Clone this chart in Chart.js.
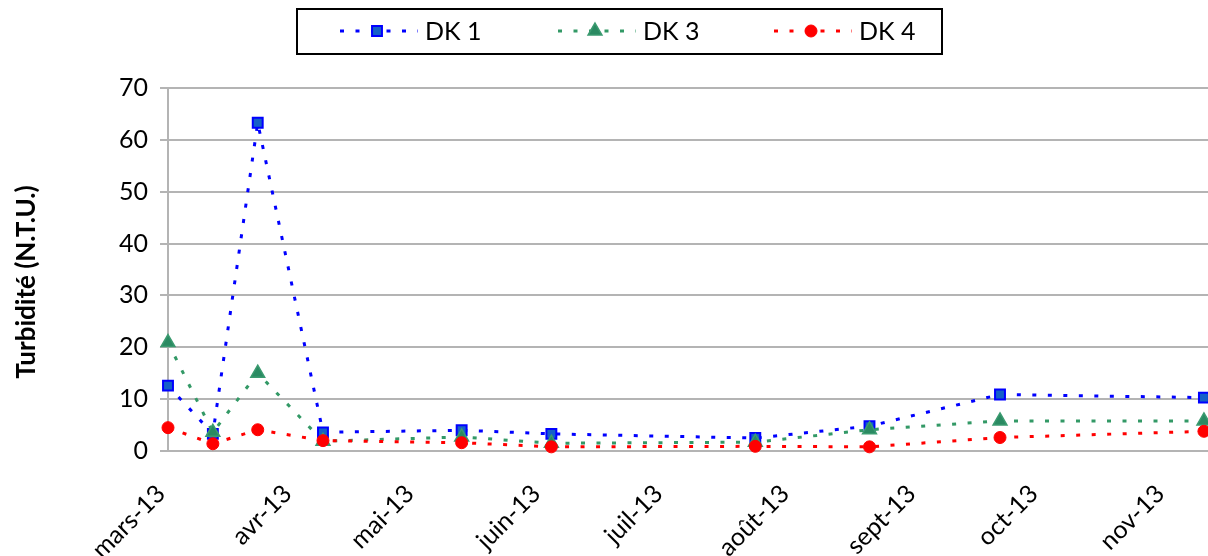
<!DOCTYPE html>
<html>
<head>
<meta charset="utf-8">
<script src="https://cdn.jsdelivr.net/npm/chart.js@4.4.1/dist/chart.umd.min.js"></script>
<style>
html, body { margin: 0; padding: 0; background: #fff; }
#wrap { width: 1208px; height: 556px; position: relative; }
</style>
</head>
<body>
<div id="wrap"><canvas id="turbChart"></canvas></div>
<script>
// dates des prélèvements
const sampleDates = ['2013-03-01', '2013-03-12', '2013-03-23', '2013-04-08', '2013-05-12',
                     '2013-06-03', '2013-07-23', '2013-08-20', '2013-09-21', '2013-11-10'];
// turbidité (N.T.U.)
const dk1 = [12.6, 3.3, 63.3, 3.6, 4.0, 3.3, 2.5, 4.8, 10.9, 10.3];
const dk3 = [20.9, 3.6, 15.0, 1.9, 2.7, 1.5, 1.7, 4.1, 5.8, 5.8];
const dk4 = [4.5, 1.4, 4.1, 2.0, 1.6, 0.8, 0.9, 0.8, 2.6, 3.8];
const seriesNames = ['DK 1', 'DK 3', 'DK 4'];

// axe des dates
const monthStarts = ['2013-03-01', '2013-04-01', '2013-05-01', '2013-06-01', '2013-07-01',
                     '2013-08-01', '2013-09-01', '2013-10-01', '2013-11-01'];
const monthLabels = ['mars-13', 'avr-13', 'mai-13', 'juin-13', 'juil-13',
                     'août-13', 'sept-13', 'oct-13', 'nov-13'];
const axisStart = '2013-03-01';
const axisEnd = '2013-11-11';
const yMin = 0, yMax = 70, yStep = 10;

const DAY = 86400000;
function dayNum(s) {
    const [y, m, d] = s.split('-').map(Number);
    const [y0, m0, d0] = axisStart.split('-').map(Number);
    return (Date.UTC(y, m - 1, d) - Date.UTC(y0, m0 - 1, d0)) / DAY;
}
function toPoints(values) {
    return sampleDates.map((d, i) => ({ x: dayNum(d), y: values[i] }));
}

Chart.defaults.font.family = 'Lato';
Chart.defaults.color = '#000';

const GRID = '#b4b4b4';

// légende encadrée, avec l'échantillon de trait + marqueur
const boxLegend = {
    id: 'boxLegend',
    afterDraw(chart) {
        const ctx = chart.ctx;
        ctx.save();
        ctx.lineWidth = 2;
        ctx.strokeStyle = '#000';
        ctx.strokeRect(297, 9, 645, 45);
        const starts = [340, 558, 774];
        chart.data.datasets.forEach((ds, i) => {
            const x0 = starts[i], y = 31;
            ctx.setLineDash(ds.borderDash);
            ctx.strokeStyle = ds.borderColor;
            ctx.lineWidth = ds.borderWidth;
            ctx.beginPath();
            ctx.moveTo(x0, y);
            ctx.lineTo(x0 + 78, y);
            ctx.stroke();
            ctx.setLineDash([]);
            ctx.fillStyle = ds.pointBackgroundColor;
            ctx.strokeStyle = ds.pointBorderColor;
            ctx.lineWidth = ds.pointBorderWidth;
            Chart.helpers.drawPoint(ctx, {
                pointStyle: ds.pointStyle, radius: ds.pointRadius,
                borderWidth: ds.pointBorderWidth, rotation: 0
            }, x0 + 37, y);
            ctx.fillStyle = '#000';
            ctx.font = '25px Lato';
            ctx.textBaseline = 'middle';
            ctx.textAlign = 'left';
            ctx.fillText(ds.label, x0 + 85, y + 1);
        });
        ctx.restore();
    }
};

const myChart = new Chart(document.getElementById('turbChart'), {
    type: 'line',
    data: {
        datasets: [
            {
                label: seriesNames[0], data: toPoints(dk1), order: 3, clip: false,
                borderColor: '#0000ff', borderWidth: 3, borderDash: [4, 11.5], tension: 0,
                pointStyle: 'rect', pointRadius: 7, pointBorderWidth: 2,
                pointBackgroundColor: '#1560c8', pointBorderColor: '#0000ff'
            },
            {
                label: seriesNames[1], data: toPoints(dk3), order: 2, clip: false,
                borderColor: '#339966', borderWidth: 3, borderDash: [4, 11.5], tension: 0,
                pointStyle: 'triangle', pointRadius: 8, pointBorderWidth: 1.5,
                pointBackgroundColor: '#2a8a62', pointBorderColor: '#3b9b70'
            },
            {
                label: seriesNames[2], data: toPoints(dk4), order: 1, clip: false,
                borderColor: '#ff0000', borderWidth: 3, borderDash: [4, 11.5], tension: 0,
                pointStyle: 'circle', pointRadius: 6, pointBorderWidth: 1,
                pointBackgroundColor: '#ff0000', pointBorderColor: '#ff0000'
            }
        ]
    },
    options: {
        responsive: true,
        maintainAspectRatio: false,
        animation: false,
        layout: { autoPadding: false, padding: { top: 88, right: 0, bottom: 0, left: 0 } },
        plugins: { legend: { display: false }, tooltip: { enabled: false } },
        scales: {
            x: {
                type: 'linear',
                min: dayNum(axisStart),
                max: dayNum(axisEnd),
                afterBuildTicks: (s) => { s.ticks = monthStarts.map(d => ({ value: dayNum(d) })); },
                afterFit: (s) => { s.height = 105; s.paddingRight = 0; s.paddingLeft = 0; },
                ticks: {
                    callback: (v, i) => monthLabels[i],
                    autoSkip: false, minRotation: 45, maxRotation: 45,
                    font: { size: 25 }, color: '#000', padding: 28, labelOffset: -7
                },
                grid: { display: false, drawTicks: false },
                border: { display: true, color: GRID, width: 2 }
            },
            y: {
                min: yMin, max: yMax,
                afterFit: (s) => { s.width = 168; },
                ticks: { stepSize: yStep, font: { size: 25 }, color: '#000', padding: 12 },
                grid: { color: GRID, lineWidth: 2, tickLength: 8 },
                border: { color: GRID, width: 2 },
                title: {
                    display: true, text: 'Turbidité (N.T.U.)    ', color: '#000',
                    font: { size: 26, weight: 'bold' }, padding: { top: 11, bottom: 0 }
                }
            }
        }
    },
    plugins: [boxLegend]
});
</script>
</body>
</html>
